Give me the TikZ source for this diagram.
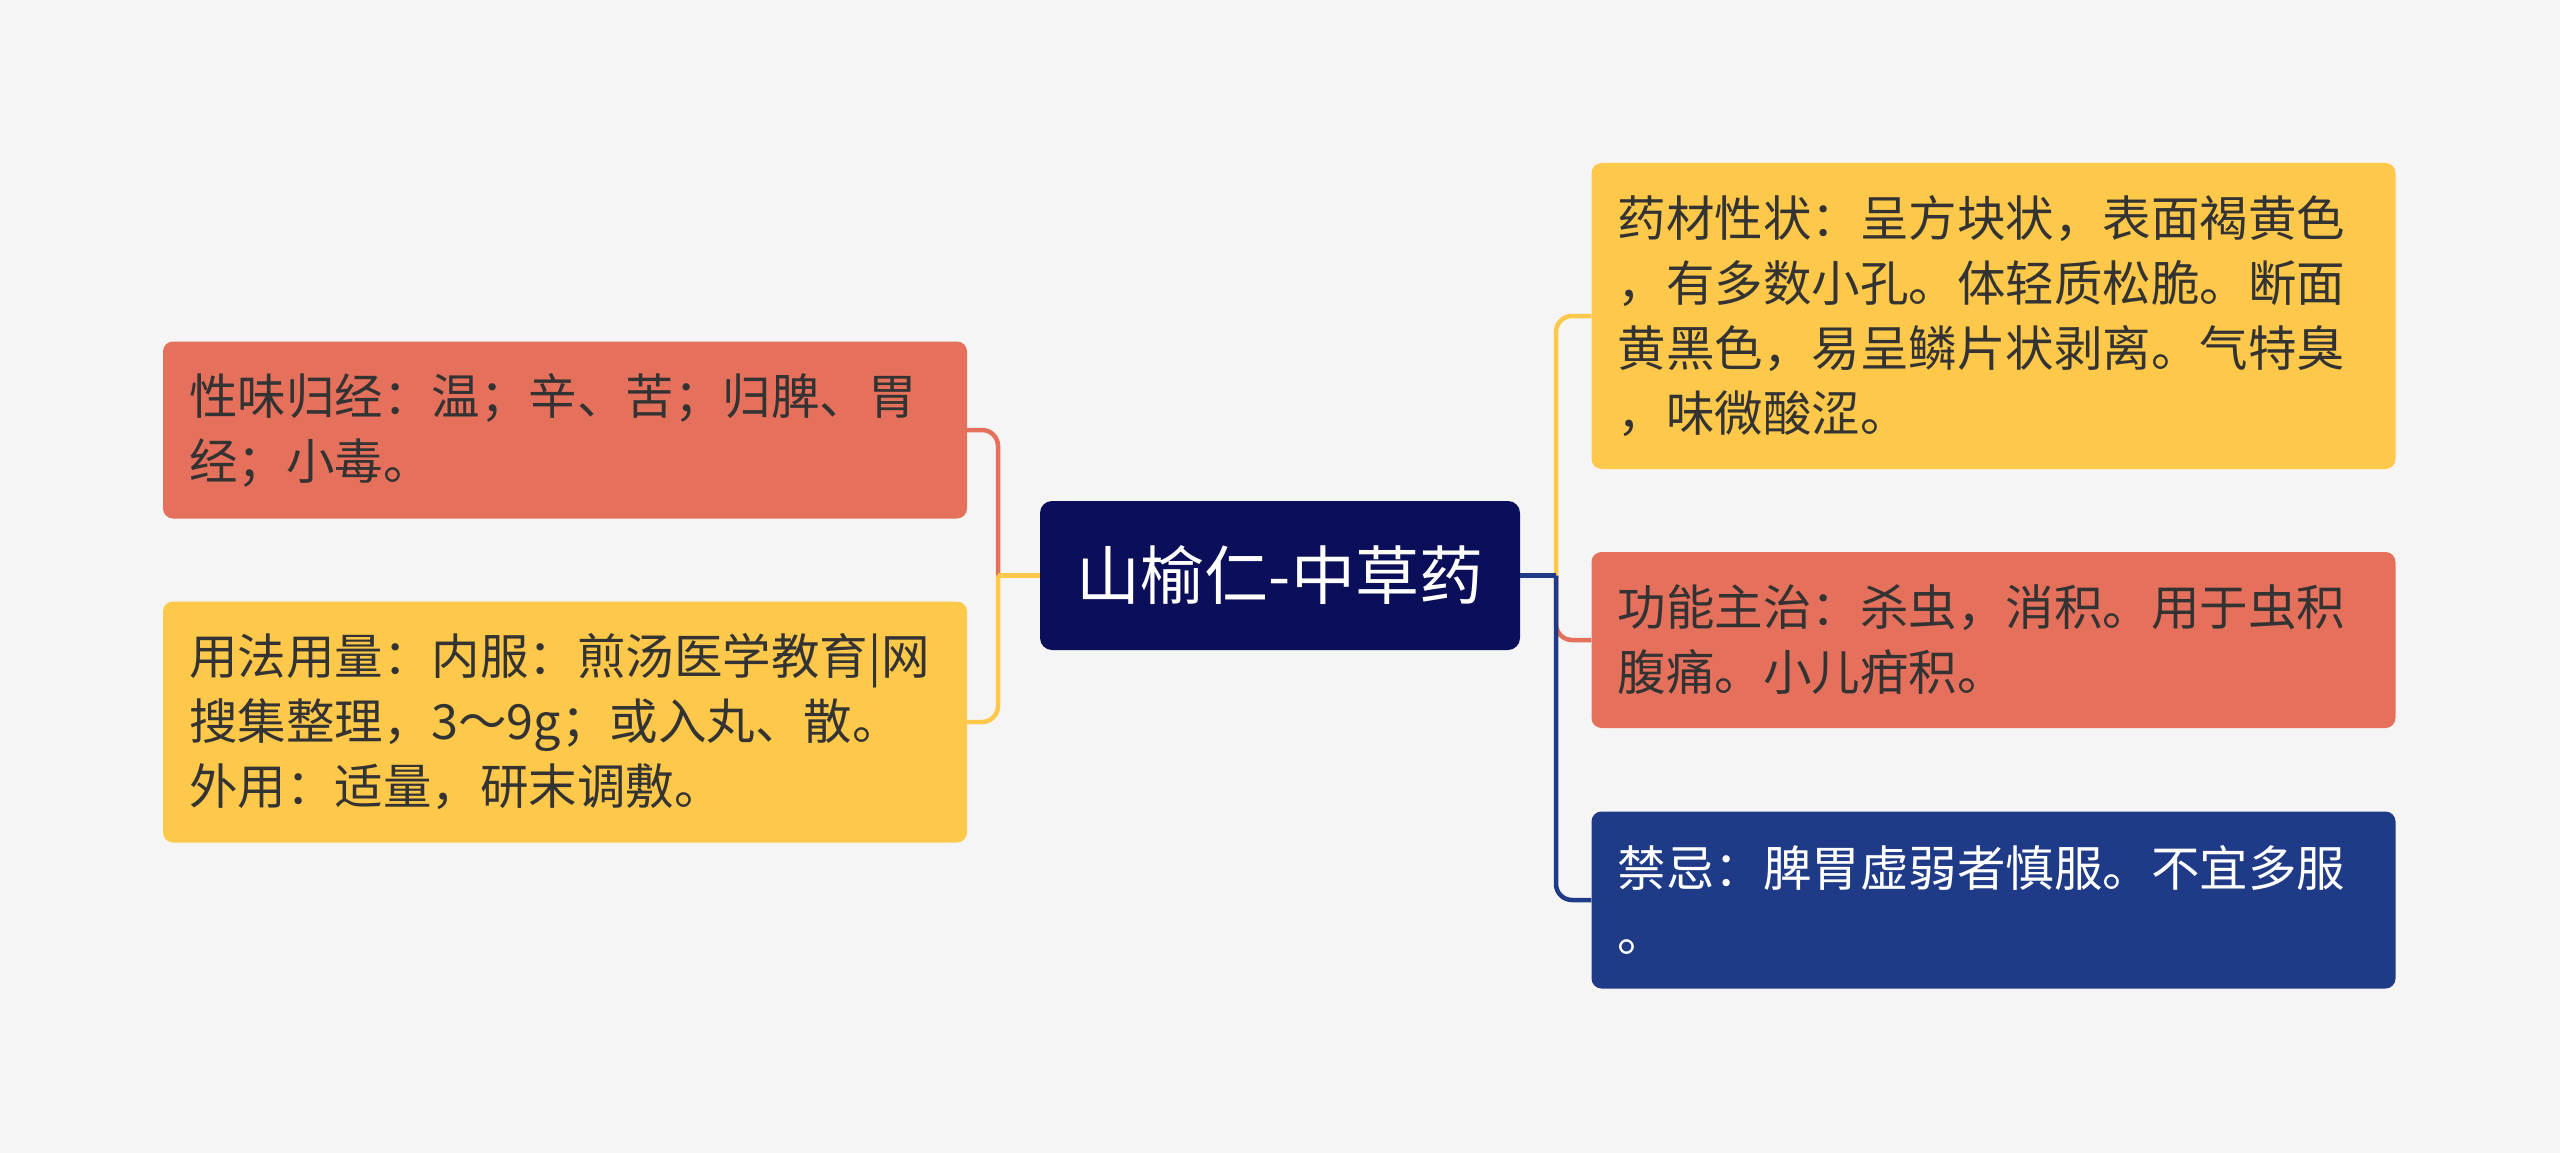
\documentclass[tikz,border=0pt]{standalone}
\usepackage{fontspec}
\usepackage{xcolor}
\usepackage{tikz}
\usetikzlibrary{
  positioning,
  calc
}
\newfontfamily\cjk{Noto Sans CJK SC}
\definecolor{mmBg}{HTML}{F5F5F5}
\definecolor{mmRoot}{HTML}{0B0F5A}
\definecolor{mmRed}{HTML}{E5705B}
\definecolor{mmYellow}{HTML}{FEC94B}
\definecolor{mmBlue}{HTML}{1F3A87}
\definecolor{mmText}{HTML}{333333}
\tikzset{
  mmnode/.style={
    rounded corners=10pt, minimum width=804pt, text width=752pt,
    inner xsep=26pt, align=left, text=mmText,
    font=\cjk\fontsize{48.5}{65}\selectfont
  },
  redbox/.style={mmnode, fill=mmRed},
  ylwbox/.style={mmnode, fill=mmYellow},
  bluebox/.style={mmnode, fill=mmBlue, text=white},
  rootbox/.style={
    rounded corners=12pt, fill=mmRoot, text=white, minimum width=480pt,
    minimum height=149pt, font=\cjk\fontsize{64}{70}\selectfont
  },
  link/.style={line width=4.5pt, rounded corners=16pt},
  redlink/.style={link, draw=mmRed},
  ylwlink/.style={link, draw=mmYellow},
  bluelink/.style={link, draw=mmBlue}
}

\begin{document}
\begin{tikzpicture}[x=1pt, y=-1pt]
  \fill[mmBg] (0,0) rectangle (2560,1153);
  \useasboundingbox (0,0) rectangle (2560,1153);

  % root
  \node[rootbox] (root) at (1280,575.5) {山榆仁-中草药};

  % left side
  \node[redbox, minimum height=177pt] (xw) at (565,430) {性味归经：温；辛、苦；归脾、胃\\经；小毒。};
  \node[ylwbox, minimum height=241pt] (yf) at (565,722) {用法用量：内服：煎汤医学教育|网\\搜集整理，3～9g；或入丸、散。\\外用：适量，研末调敷。};

  % right side
  \node[ylwbox, minimum height=306pt] (yc) at (1993.5,316) {药材性状：呈方块状，表面褐黄色\\，有多数小孔。体轻质松脆。断面\\黄黑色，易呈鳞片状剥离。气特臭\\，味微酸涩。};
  \node[redbox, minimum height=176pt] (gn) at (1993.5,640) {功能主治：杀虫，消积。用于虫积\\腹痛。小儿疳积。};
  \node[bluebox, minimum height=177pt] (jj) at (1993.5,900) {禁忌：脾胃虚弱者慎服。不宜多服\\。};

  \coordinate (jl) at (998,575.5);
  \coordinate (jr) at (1556,575.5);

  % connectors
  \draw[redlink] (jl) |- (xw.east);
  \draw[ylwlink] (jl) |- (yf.east);
  \draw[ylwlink] (root.west) -- (jl);

  \draw[ylwlink] (jr) |- (yc.west);
  \draw[redlink] (jr) |- (gn.west);
  \draw[bluelink] (jr) |- (jj.west);
  \draw[bluelink] (root.east) -- (jr);
\end{tikzpicture}
\end{document}
